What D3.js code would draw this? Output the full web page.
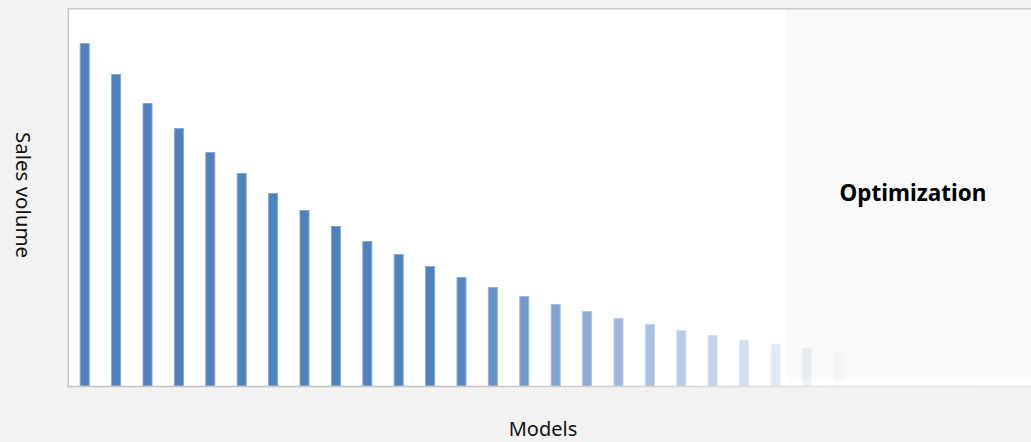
<!DOCTYPE html>
<html>
<head>
<meta charset="utf-8">
<script src="https://cdn.jsdelivr.net/npm/d3@7"></script>
<style>
  html, body { margin: 0; padding: 0; background: #f2f2f2; }
  svg { display: block; font-family: "Noto Sans", "Open Sans", sans-serif; }
</style>
</head>
<body>
<svg id="chart" width="1031" height="442"></svg>
<script>
// models along the x axis, sales volume per model
var models = ["M1", "M2", "M3", "M4", "M5", "M6", "M7", "M8", "M9", "M10",
    "M11", "M12", "M13", "M14", "M15", "M16", "M17", "M18", "M19", "M20",
    "M21", "M22", "M23", "M24", "M25"];
var sales = [343, 312, 283, 258, 234, 213, 193, 176, 160, 145,
    132, 120, 109, 99, 90, 82, 75, 68, 62, 56,
    51, 46, 42, 38, 34];
var salesMax = 377;

var xLabel = "Models";
var yLabel = "Sales volume";
var panelLabel = "Optimization";

function drawChart() {
    let svg = d3.select("#chart");
    let plot = { left: 69, top: 9, right: 1031, bottom: 386 };

    let data = models.map(function (m, i) { return { model: m, value: sales[i] }; });

    let x = d3.scalePoint()
        .domain(models)
        .range([plot.left, plot.left + 31.4 * models.length])
        .padding(0.5);
    let y = d3.scaleLinear()
        .domain([0, salesMax])
        .range([plot.bottom, plot.top]);

    // fade of the long tail towards the right
    let fade = d3.scaleLinear().domain([440, 850]).range([1, 0]).clamp(true);

    // gradient for the fading base line
    let defs = svg.append("defs");
    let grad = defs.append("linearGradient")
        .attr("id", "baseFade")
        .attr("gradientUnits", "userSpaceOnUse")
        .attr("x1", plot.left).attr("x2", plot.right)
        .attr("y1", 0).attr("y2", 0);
    grad.append("stop").attr("offset", "0.4").attr("stop-color", "#c4c4c4");
    grad.append("stop").attr("offset", "0.85").attr("stop-color", "#e6e6e6");
    grad.append("stop").attr("offset", "1").attr("stop-color", "#ebebeb");

    // plot area
    svg.append("rect")
        .attr("x", plot.left).attr("y", plot.top)
        .attr("width", plot.right - plot.left)
        .attr("height", plot.bottom - plot.top)
        .attr("fill", "#ffffff");

    // optimization panel
    svg.append("rect")
        .attr("class", "panel")
        .attr("x", 786).attr("y", plot.top + 1)
        .attr("width", plot.right - 786)
        .attr("height", 379 - plot.top - 1)
        .attr("fill", "#f9f9f9");

    // bars
    let bw = 10;
    svg.append("g").attr("class", "bars")
        .selectAll("rect")
        .data(data)
        .enter().append("rect")
        .attr("x", function (d) { return x(d.model) - bw / 2 + 0.5; })
        .attr("y", function (d) { return y(d.value) + 0.5; })
        .attr("width", bw - 1)
        .attr("height", function (d) { return plot.bottom - y(d.value) - 0.5; })
        .attr("fill", "#4f81bd")
        .attr("stroke", "#86a7d4")
        .attr("stroke-width", 1)
        .attr("opacity", function (d) { return fade(x(d.model)); });

    // borders: top, left, bottom
    svg.append("line")
        .attr("x1", plot.left - 1).attr("x2", plot.right)
        .attr("y1", plot.top - 0.25).attr("y2", plot.top - 0.25)
        .attr("stroke", "#c8c8c8").attr("stroke-width", 1.5);
    svg.append("line")
        .attr("x1", plot.left - 0.75).attr("x2", plot.left - 0.75)
        .attr("y1", plot.top - 1).attr("y2", plot.bottom + 1)
        .attr("stroke", "#c8c8c8").attr("stroke-width", 1.5);
    svg.append("line")
        .attr("x1", plot.left - 1.5).attr("x2", plot.right)
        .attr("y1", plot.bottom + 0.5).attr("y2", plot.bottom + 0.5)
        .attr("stroke", "url(#baseFade)").attr("stroke-width", 1.5);

    // texts
    svg.append("text")
        .attr("x", 913).attr("y", 201)
        .attr("text-anchor", "middle")
        .style("font-size", "22.5px")
        .style("font-weight", "bold")
        .style("fill", "#000")
        .text(panelLabel);

    svg.append("text")
        .attr("x", 543).attr("y", 436)
        .attr("text-anchor", "middle")
        .style("font-size", "20px")
        .style("fill", "#111")
        .text(xLabel);

    svg.append("text")
        .attr("transform", "translate(16,195) rotate(90)")
        .attr("text-anchor", "middle")
        .style("font-size", "20.5px")
        .style("fill", "#111")
        .text(yLabel);
}

drawChart();
</script>
</body>
</html>
